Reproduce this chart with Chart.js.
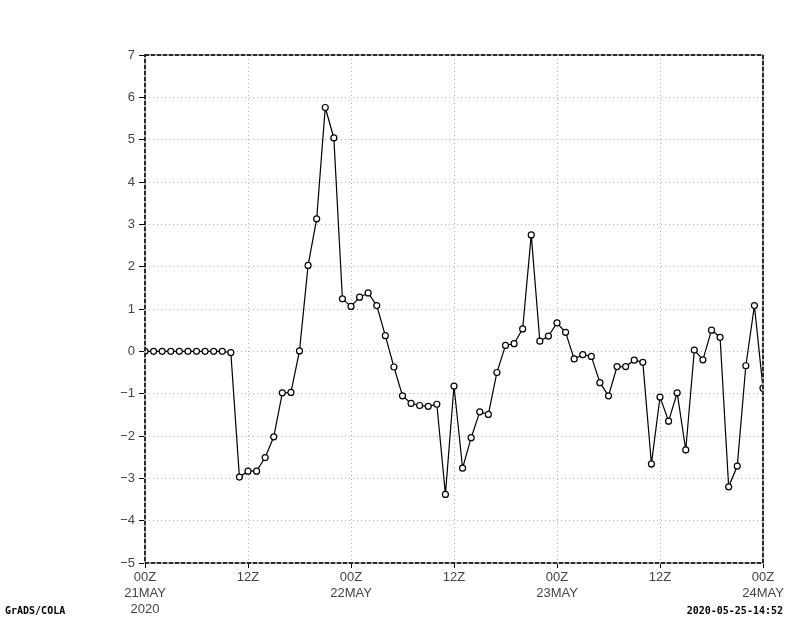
<!DOCTYPE html>
<html>
<head>
<meta charset="utf-8">
<script src="https://cdn.jsdelivr.net/npm/chart.js@4/dist/chart.umd.min.js"></script>
<style>
  html, body { margin: 0; padding: 0; background: #fff; }
  #wrap { width: 800px; height: 618px; position: relative; }
</style>
</head>
<body>
<div id="wrap"><canvas id="chart" width="800" height="618"></canvas></div>
<script>
// hourly values from 00Z 21MAY to 00Z 24MAY
const values = [
  0, 0, 0, 0, 0, 0, 0, 0, 0, 0, -0.03,
  -2.97, -2.83, -2.83, -2.51, -2.02, -0.98, -0.97, 0.01, 2.03, 3.13,
  5.76, 5.04, 1.24, 1.06, 1.28, 1.38, 1.08, 0.37, -0.37, -1.05,
  -1.23, -1.28, -1.30, -1.25, -3.38, -0.82, -2.76, -2.04, -1.43, -1.49,
  -0.50, 0.14, 0.18, 0.53, 2.75, 0.24, 0.36, 0.67, 0.45, -0.18,
  -0.08, -0.12, -0.74, -1.05, -0.36, -0.36, -0.21, -0.26, -2.66, -1.08,
  -1.65, -0.98, -2.33, 0.03, -0.20, 0.50, 0.33, -3.20, -2.71, -0.34,
  1.08, -0.87
];
const hours = values.map((_, i) => i);

const xTickLabels = [
  ["00Z", "21MAY", "2020"], ["12Z"], ["00Z", "22MAY"], ["12Z"],
  ["00Z", "23MAY"], ["12Z"], ["00Z", "24MAY"]
];
const yTickLabels = ["\u22125", "\u22124", "\u22123", "\u22122", "\u22121", "0", "1", "2", "3", "4", "5", "6", "7"];

const tickFont = { family: "Liberation Sans", size: 13, lineHeight: 1.2 };
const tickColor = "#444";

// GrADS-style frame and footer text
const framePlugin = {
  id: "frame",
  afterDraw(chart) {
    const { ctx, chartArea: a } = chart;
    ctx.save();
    ctx.strokeStyle = "#aaa";
    ctx.lineWidth = 2;
    ctx.strokeRect(a.left, a.top, a.right - a.left, a.bottom - a.top);
    ctx.strokeStyle = "#000";
    ctx.lineWidth = 1.5;
    ctx.setLineDash([4, 2]);
    ctx.strokeRect(a.left, a.top, a.right - a.left, a.bottom - a.top);
    ctx.setLineDash([]);
    ctx.fillStyle = "#000";
    ctx.font = "bold 10px 'DejaVu Sans Mono'";
    ctx.textBaseline = "alphabetic";
    ctx.textAlign = "left";
    ctx.fillText("GrADS/COLA", 5, 614);
    ctx.textAlign = "right";
    ctx.fillText("2020-05-25-14:52", 783, 614);
    ctx.restore();
  }
};

new Chart(document.getElementById("chart"), {
  type: "line",
  data: {
    labels: hours,
    datasets: [{
      data: values.map((v, i) => ({ x: hours[i], y: v })),
      borderColor: "#000",
      borderWidth: 1.2,
      pointRadius: 3,
      pointBackgroundColor: "#fff",
      pointBorderColor: "#000",
      pointBorderWidth: 1.2,
      tension: 0,
      fill: false
    }]
  },
  options: {
    responsive: false,
    animation: false,
    events: [],
    layout: { padding: { top: 55, right: 37, left: 0, bottom: 0 } },
    plugins: { legend: { display: false }, tooltip: { enabled: false } },
    scales: {
      x: {
        type: "linear",
        min: 0,
        max: 72,
        afterFit(scale) { scale.height = 55; },
        afterBuildTicks(scale) {
          scale.ticks = xTickLabels.map((_, i) => ({ value: i * 12 }));
        },
        ticks: {
          color: tickColor,
          font: tickFont,
          padding: 2,
          maxRotation: 0,
          autoSkip: false,
          callback: (v, i) => xTickLabels[i]
        },
        grid: {
          color: "#b0b0b0",
          lineWidth: 1,
          tickLength: 5,
          tickColor: "#000",
          drawTicks: true
        },
        border: { display: false, dash: [1, 3] }
      },
      y: {
        min: -5,
        max: 7,
        afterFit(scale) { scale.width = 145; },
        afterBuildTicks(scale) {
          scale.ticks = yTickLabels.map((_, i) => ({ value: i - 5 }));
        },
        ticks: {
          color: tickColor,
          font: tickFont,
          padding: 4,
          autoSkip: false,
          callback: (v, i) => yTickLabels[i]
        },
        grid: {
          color: "#b0b0b0",
          lineWidth: 1,
          tickLength: 6,
          tickColor: "#000",
          drawTicks: true
        },
        border: { display: false, dash: [1, 3] }
      }
    }
  },
  plugins: [framePlugin]
});
</script>
</body>
</html>
